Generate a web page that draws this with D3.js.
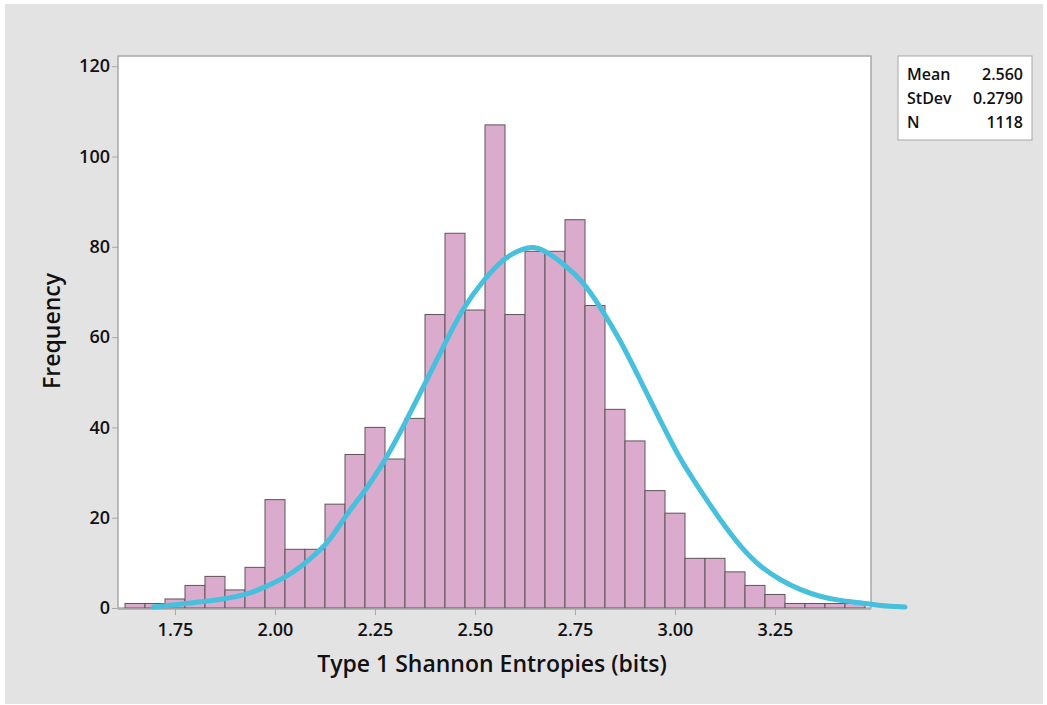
<!DOCTYPE html>
<html>
<head>
<meta charset="utf-8">
<script src="https://cdn.jsdelivr.net/npm/d3@7"></script>
<style>
  body { margin:0; background:#fff; }
  text { font-family:"Open Sans", "Noto Sans", sans-serif; fill:#111; }
</style>
</head>
<body>
<div id="chart"></div>
<script>
// histogram bins (midpoints, width 0.05) and counts
var binMids = [1.65,1.70,1.75,1.80,1.85,1.90,1.95,2.00,2.05,2.10,2.15,2.20,2.25,2.30,2.35,2.40,2.45,2.50,2.55,
               2.60,2.65,2.70,2.75,2.80,2.85,2.90,2.95,3.00,3.05,3.10,3.15,3.20,3.25,3.30,3.35,3.40,3.45]
var counts = [1,1,2,5,7,4,9,24,13,13,23,34,40,33,42,65,83,66,107,
              65,79,79,86,67,44,37,26,21,11,11,8,5,3,1,1,1,1]
var binWidth = 0.05

// fitted curve as drawn in the picture
var curveX = [1.696,1.742,1.804,1.863,1.938,1.996,2.046,2.113,2.138,2.188,2.221,2.271,2.321,2.371,2.421,2.471,2.521,2.571,
              2.621,2.646,2.671,2.721,2.771,2.813,2.863,2.913,2.963,3.013,3.063,3.113,3.163,3.213,3.263,3.313,3.363,3.413,3.463,3.513,3.575]
var curveY = [0.2,0.6,1.3,1.8,3.1,5.5,7.7,12.8,15.1,21.9,25.4,32.0,40.2,49.0,57.9,66.7,72.6,77.5,
              79.7,80.0,79.4,76.3,72.3,66.7,59.4,50.5,41.6,32.8,26.1,19.5,13.6,9.1,6.2,4.0,2.5,1.6,1.2,0.5,0.2]

var xTicks = [1.75,2.00,2.25,2.50,2.75,3.00,3.25]
var yTicks = [0,20,40,60,80,100,120]
var stats = [["Mean","2.560"],["StDev","0.2790"],["N","1118"]]

var W = 1047, H = 705
var plot = {left:118, top:56, right:871, bottom:608}

var svg = d3.select("#chart").append("svg").attr("width",W).attr("height",H)

svg.append("rect").attr("x",5).attr("y",4).attr("width",1038).attr("height",700).attr("fill","#e3e3e3")
svg.append("rect").attr("x",plot.left).attr("y",plot.top)
  .attr("width",plot.right-plot.left).attr("height",plot.bottom-plot.top)
  .attr("fill","#fff").attr("stroke","#a8a8a8").attr("stroke-width",1.5)

var x = d3.scaleLinear().domain([2.25,2.75]).range([375,575])
var y = d3.scaleLinear().domain([0,120]).range([plot.bottom,66.2])

// bars
svg.append("g").selectAll("rect").data(counts).enter().append("rect")
  .attr("x",(d,i)=>x(binMids[i]-binWidth/2))
  .attr("width",(d,i)=>x(binMids[i]+binWidth/2)-x(binMids[i]-binWidth/2))
  .attr("y",d=>y(d))
  .attr("height",d=>y(0)-y(d))
  .attr("fill","#dbabcd").attr("stroke","#5e5459").attr("stroke-width",1)

// axes
var xAxis = svg.append("g").attr("transform","translate(0,"+(plot.bottom+1)+")")
  .call(d3.axisBottom(x).tickValues(xTicks).tickFormat(d3.format(".2f")).tickSize(6).tickPadding(8))
var yAxis = svg.append("g").attr("transform","translate("+plot.left+",0)")
  .call(d3.axisLeft(y).tickValues(yTicks).tickSize(6).tickPadding(2))
;[xAxis,yAxis].forEach(function(a){
  a.select(".domain").remove()
  a.selectAll("line").attr("stroke","#a8a8a8")
  a.selectAll("text").style("font-size","18px").style("font-weight","600").attr("fill","#111")
})
svg.append("line").attr("x1",plot.left).attr("x2",plot.right).attr("y1",plot.bottom+1).attr("y2",plot.bottom+1)
  .attr("stroke","#a8a8a8").attr("stroke-width",1.5)

// fitted curve
var pts = curveX.map((v,i)=>[v,curveY[i]])
svg.append("path").datum(pts)
  .attr("d",d3.line().x(d=>x(d[0])).y(d=>y(d[1])).curve(d3.curveBasis))
  .attr("fill","none").attr("stroke","#47c0de").attr("stroke-width",5).attr("stroke-linecap","round")

// axis titles
svg.append("text").attr("x",492).attr("y",672).attr("text-anchor","middle")
  .style("font-size","23px").style("font-weight","600").text("Type 1 Shannon Entropies (bits)")
svg.append("text").attr("transform","translate(60,331) rotate(-90)").attr("text-anchor","middle")
  .style("font-size","23px").style("font-weight","600").text("Frequency")

// stats box
var leg = svg.append("g")
leg.append("rect").attr("x",898).attr("y",56).attr("width",134).attr("height",84)
  .attr("fill","#fff").attr("stroke","#a8a8a8")
stats.forEach(function(s,i){
  leg.append("text").attr("x",907).attr("y",80+i*24).style("font-size","16px").style("font-weight","600").text(s[0])
  leg.append("text").attr("x",1023).attr("y",80+i*24).attr("text-anchor","end")
    .style("font-size","16px").style("font-weight","600").text(s[1])
})
</script>
</body>
</html>
